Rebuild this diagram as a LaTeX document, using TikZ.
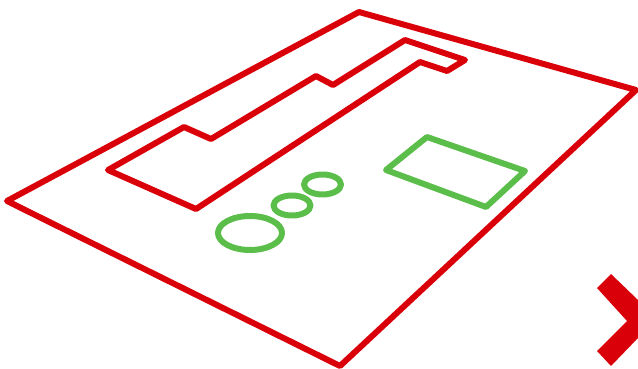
\documentclass[tikz,border=0pt]{standalone}
\definecolor{boardred}{RGB}{218,0,10}
\definecolor{partgreen}{RGB}{92,190,74}
\tikzset{
  redline/.style={draw=boardred,line width=6pt,line join=round},
  greenline/.style={draw=partgreen,line width=6pt,line join=round},
}
\begin{document}
\begin{tikzpicture}[x=1pt,y=-1pt]
\useasboundingbox (0,0) rectangle (638,369);
\clip (0,0) rectangle (638,369);
\draw[redline] (359,12) -- (636,90) -- (340,366) -- (7,201) -- cycle;
\draw[redline] (405,40) -- (465,60) -- (447,71) -- (420,62) -- (196,209) -- (108,170) -- (184,127) -- (211,139) -- (316,76) -- (333,85) -- cycle;
\draw[greenline] (427,137) -- (525,171) -- (486,207) -- (386,170) -- cycle;
\draw[greenline] (250,233) ellipse [x radius=32,y radius=17];
\draw[greenline] (292,205.5) ellipse [x radius=18.5,y radius=10];
\draw[greenline] (322.5,184.5) ellipse [x radius=18.5,y radius=10];
\fill[boardred] (611,274) -- (638,300) -- (638,338) -- (611,366) -- (597,351) -- (627,321) -- (597,288) -- cycle;
\end{tikzpicture}
\end{document}
